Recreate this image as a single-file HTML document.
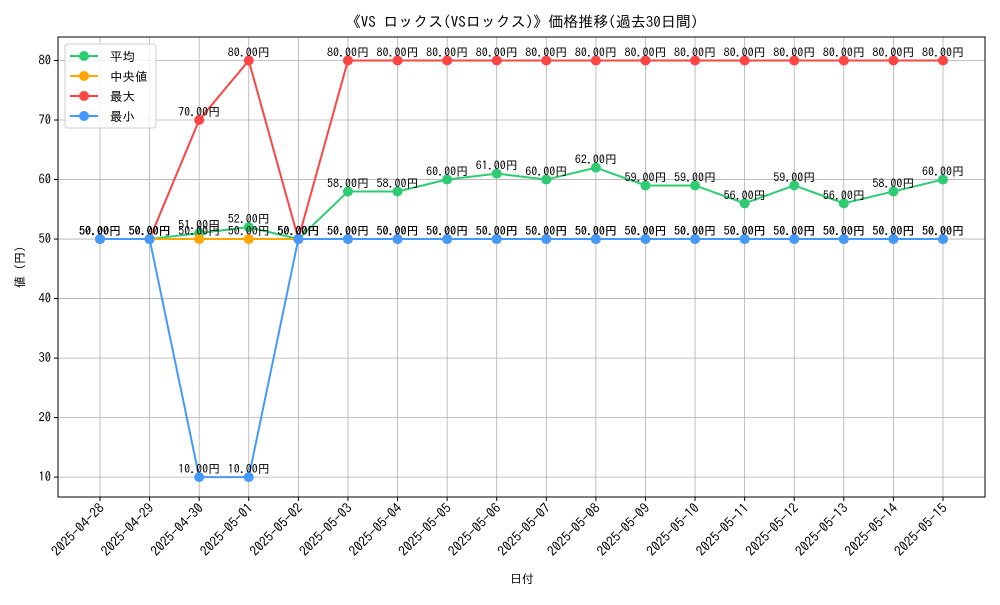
<!DOCTYPE html>
<html><head><meta charset="utf-8">
<style>
body{margin:0;background:#fff;}
svg text{font-family:"IPAGothic","Liberation Sans","Noto Sans CJK JP",sans-serif;}
</style></head>
<body>
<svg id="chart" width="1000" height="600" xmlns="http://www.w3.org/2000/svg">
<rect width="1000" height="600" fill="#fff"/>
<text x="522" y="27" font-size="15" text-anchor="middle">《VS ロックス(VSロックス)》価格推移(過去30日間)</text>
<g id="grid"></g>
<rect x="58" y="37" width="927" height="460" fill="none" stroke="#000" stroke-width="1"/>
<g id="axes"></g>
<g id="series"></g>
<g id="labels"></g>
<text x="522" y="583" font-size="12" text-anchor="middle">日付</text>
<text x="24" y="267" font-size="12" text-anchor="middle" transform="rotate(-90 24 267)">値 (円)</text>
<g id="legend"></g>
</svg>
<script>
const dates=["2025-04-28","2025-04-29","2025-04-30","2025-05-01","2025-05-02","2025-05-03","2025-05-04","2025-05-05","2025-05-06","2025-05-07","2025-05-08","2025-05-09","2025-05-10","2025-05-11","2025-05-12","2025-05-13","2025-05-14","2025-05-15"];
const avgValues=[50,50,51,52,50,58,58,60,61,60,62,59,59,56,59,56,58,60];
const medianValues=[50,50,50,50,50,50,50,50,50,50,50,50,50,50,50,50,50,50];
const maxValues=[50,50,70,80,50,80,80,80,80,80,80,80,80,80,80,80,80,80];
const minValues=[50,50,10,10,50,50,50,50,50,50,50,50,50,50,50,50,50,50];
const yTicks=[10,20,30,40,50,60,70,80];
const seriesNames=["平均","中央値","最大","最小"];

const NS="http://www.w3.org/2000/svg";
const yMin=6.66,yMax=83.95,plotTop=37,plotBot=497;
function xScale(i){return 100+i*(943-100)/(dates.length-1);}
function yScale(v){return plotBot-(v-yMin)/(yMax-yMin)*(plotBot-plotTop);}
function mk(tag,attrs,parent){const e=document.createElementNS(NS,tag);for(const k in attrs)e.setAttribute(k,attrs[k]);parent.appendChild(e);return e;}
const grid=document.getElementById('grid'),axes=document.getElementById('axes');
dates.forEach((d,i)=>{
  const x=xScale(i);
  const gl=mk('line',{x1:x,x2:x,y1:plotTop,y2:plotBot,stroke:'#b0b0b0','stroke-width':0.8},grid);
  
  
  const tk=mk('line',{x1:x,x2:x,y1:plotBot,y2:plotBot+4,stroke:'#000'},axes);
  
  
  const t=mk('text',{x:x+5,y:plotBot+12,'font-size':13.5,'text-anchor':'end',transform:`rotate(-45 ${x+5} ${plotBot+12})`},axes);
  
  
  t.textContent=d;
});
yTicks.forEach(v=>{
  const y=yScale(v);
  const gl=mk('line',{x1:58,x2:985,y1:y,y2:y,stroke:'#b0b0b0','stroke-width':0.8},grid);
  
  
  const tk=mk('line',{x1:54,x2:58,y1:y,y2:y,stroke:'#000'},axes);
  
  
  const t=mk('text',{x:51,y:y+4,'font-size':12.5,'text-anchor':'end'},axes);
  
  
  t.textContent=v;
});
const seriesData=[avgValues,medianValues,maxValues,minValues];
const colors=["#2ecc71","#ffa500","#ff4444","#4499ff"];
const sg=document.getElementById('series'),lg=document.getElementById('labels');
seriesData.forEach((vals,s)=>{
  const g=mk('g',{},sg);
  
  
  const pl=mk('polyline',{points:vals.map((v,i)=>xScale(i)+','+yScale(v)).join(' '),fill:'none',stroke:colors[s],'stroke-width':2},g);
  
  
  vals.forEach((v,i)=>{
    const c=mk('circle',{cx:xScale(i),cy:yScale(v),r:5,fill:colors[s]},g);
    
    
    const t=mk('text',{x:xScale(i),y:yScale(v)-4,'font-size':12,'text-anchor':'middle'},lg);
    
    
    t.textContent=v.toFixed(2)+'円';
  });
});
const leg=document.getElementById('legend');
const box=mk('rect',{x:65,y:44,width:91,height:84,fill:'#fff','fill-opacity':0.8,stroke:'#ccc',rx:3},leg);


seriesNames.forEach((n,s)=>{
  const y=56+s*20;
  const g=mk('g',{},leg);
  
  
  mk('line',{x1:70,x2:98,y1:y,y2:y,stroke:colors[s],'stroke-width':2},g);
  mk('circle',{cx:84,cy:y,r:5,fill:colors[s]},g);
  const t=mk('text',{x:110,y:y+5,'font-size':12.5},g);
  t.textContent=n;
});
</script>
</body></html>
